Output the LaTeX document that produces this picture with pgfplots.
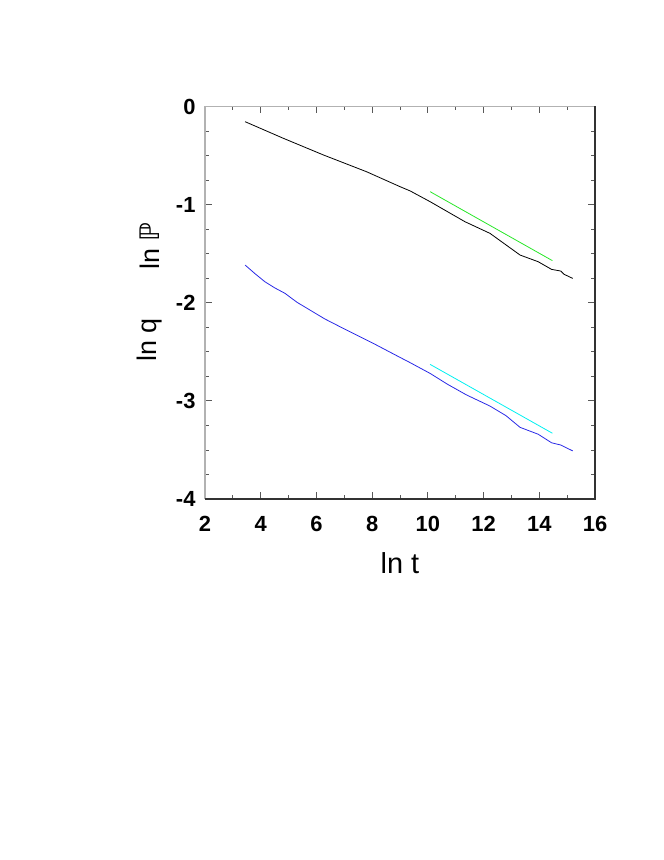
\documentclass[border=0pt]{standalone}
\usepackage{fontspec}
\setmainfont{Liberation Sans}
\newfontfamily\dejavu{DejaVu Sans}
\usepackage{pgfplots}
\pgfplotsset{compat=1.18}
\definecolor{lgreen}{RGB}{40,230,40}
\definecolor{lcyan}{RGB}{0,240,240}
\definecolor{lblue}{RGB}{40,40,230}
\begin{document}
\begin{tikzpicture}[x=1bp,y=1bp]
\useasboundingbox (0,0) rectangle (664,860);
\begin{axis}[
  at={(205bp,361bp)}, anchor=south west,
  scale only axis, width=390bp, height=392.5bp,
  xmin=2, xmax=16, ymin=-4, ymax=0,
  xtick={2,4,...,16}, ytick={-4,-3,...,0},
  minor x tick num=1, minor y tick num=3,
  tick align=inside,
  major tick length=7bp, minor tick length=4bp,
  tick style={gray!70!black, line width=0.8pt},
  axis line style={draw=none},
  tick label style={font=\fontsize{22}{25}\selectfont\bfseries},
  /pgf/number format/assume math mode=true,
  xticklabel style={yshift=-14bp},
  yticklabel style={xshift=-6bp},
  xlabel={ln t},
  xlabel style={font=\fontsize{29}{32}\selectfont, yshift=-14bp},
  clip=false,
]
\draw[gray!60, line width=1.2pt] (rel axis cs:0,0) -- (rel axis cs:0,1) -- (rel axis cs:1,1);
\draw[black!80, line width=1.2pt] (rel axis cs:1,1) -- (rel axis cs:1,0) -- (rel axis cs:0,0);
\addplot[black, line width=0.8pt] coordinates {
(3.44,-0.155) (4.81,-0.324) (6.25,-0.494) (7.80,-0.665) (9.0,-0.817) (9.36,-0.86)
(10.08,-0.970) (11.33,-1.174) (12.23,-1.293) (13.31,-1.514) (13.96,-1.582)
(14.44,-1.66) (14.77,-1.677) (14.89,-1.71) (15.20,-1.752)};
\addplot[lgreen, line width=0.8pt] coordinates {(10.08,-0.868) (14.47,-1.571)};
\addplot[lblue, line width=0.8pt] coordinates {
(3.44,-1.616) (3.8,-1.705) (4.15,-1.786) (4.5,-1.848) (4.87,-1.904) (5.3,-1.995) (5.77,-2.075)
(6.3,-2.165) (6.85,-2.245) (7.45,-2.33) (8.04,-2.414)
(9.0,-2.557) (9.36,-2.61) (10.08,-2.72) (10.7,-2.83) (11.39,-2.94) (12.23,-3.053) (12.8,-3.15) (13.31,-3.27)
(13.96,-3.34) (14.44,-3.427) (14.77,-3.45) (15.2,-3.51)};
\addplot[lcyan, line width=0.8pt] coordinates {(10.08,-2.628) (14.47,-3.33)};
\node[rotate=90, font=\fontsize{27}{30}\selectfont] at (axis description cs:-0.141,0.645) {ln {\dejavu ℙ}};
\node[rotate=90, font=\fontsize{27}{30}\selectfont] at (axis description cs:-0.141,0.405) {ln q};
\end{axis}
\end{tikzpicture}
\end{document}
